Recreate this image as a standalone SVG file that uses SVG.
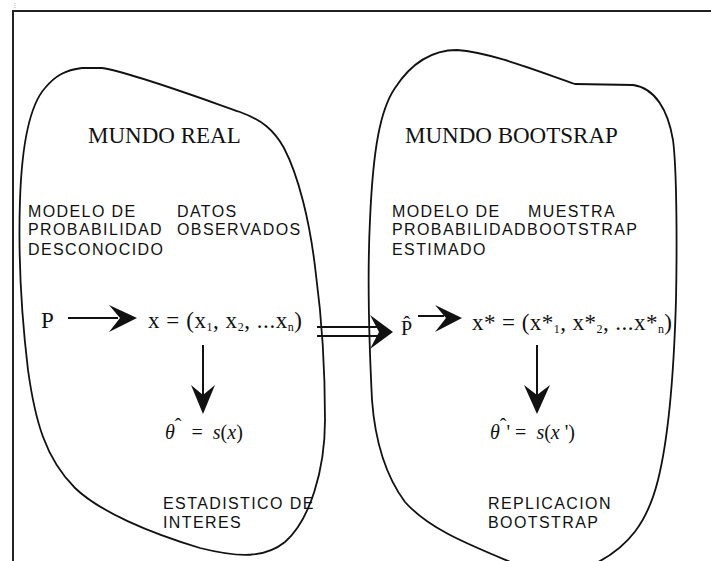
<svg xmlns="http://www.w3.org/2000/svg" width="711" height="561" viewBox="0 0 711 561">
<style>
.frame{fill:none;stroke:#222;stroke-width:2}
.blob{fill:none;stroke:#111;stroke-width:1.8}
.title{font-family:"Liberation Serif",serif;font-size:23px;fill:#111}
.lab{font-family:"Liberation Sans",Arial,sans-serif;font-size:16px;letter-spacing:1.4px;fill:#111}
.m{font-family:"Liberation Serif",serif;font-size:23px;fill:#111}
.sub{font-size:12px}
.eq{font-family:"Liberation Serif",serif;font-size:20px;fill:#111}
.it{font-style:italic}
.ln{stroke:#111;stroke-width:2;fill:none}
.head{fill:#111}
</style>
<rect width="711" height="561" fill="#fff"/>
<g id="frame">
<path class="frame" d="M13,561 V11 H711"/>
<line x1="15" y1="3" x2="15" y2="8" stroke="#aaa" stroke-width="1" stroke-dasharray="1,1"/>
</g>
<g id="mundo-real">
<path class="blob" d="M82,68 L102,68 C130,72 200,98 240,112 C262,120 274,130 284,148 C298,175 310,220 316,275 C322,320 325,360 325,420 C325,470 310,520 285,542 C265,558 240,558 200,548 C150,533 100,512 75,488 C45,458 35,420 28,370 C22,320 18,260 20,200 C22,140 30,105 45,88 C55,76 65,70 82,68 Z"/>
<text class="title" x="88" y="143">MUNDO REAL</text>
<text class="lab" x="28" y="217">MODELO DE</text>
<text class="lab" x="177" y="217">DATOS</text>
<text class="lab" x="28" y="235">PROBABILIDAD</text>
<text class="lab" x="177" y="235">OBSERVADOS</text>
<text class="lab" x="28" y="255">DESCONOCIDO</text>
<text class="m" x="41" y="328">P</text>
<text class="m" x="148" y="328" textLength="154" lengthAdjust="spacing">x = (x<tspan class="sub" dy="3">1</tspan><tspan dy="-3">, x</tspan><tspan class="sub" dy="3">2</tspan><tspan dy="-3">, ...x</tspan><tspan class="sub" dy="3">n</tspan><tspan dy="-3">)</tspan></text>
<text class="eq" x="165" y="439"><tspan class="it">θ</tspan><tspan dy="-6">ˆ</tspan><tspan dy="6" xml:space="preserve">  =  </tspan><tspan class="it">s</tspan>(<tspan class="it">x</tspan>)</text>
<text class="lab" x="163" y="509">ESTADISTICO DE</text>
<text class="lab" x="163" y="528">INTERES</text>
</g>
<g id="mundo-bootstrap">
<path class="blob" d="M457,50 C490,52 540,72 575,84 L633,85 C655,88 668,110 673,140 C677,170 677,250 676,300 C674,370 668,440 658,480 C648,520 630,548 590,566 L520,566 C470,545 430,530 405,502 C385,475 375,440 372,400 C369,340 367,280 370,220 C373,150 380,110 395,88 C410,65 430,50 457,50 Z"/>
<text class="title" x="405" y="143">MUNDO BOOTSRAP</text>
<text class="lab" x="392" y="217">MODELO DE</text>
<text class="lab" x="528" y="217">MUESTRA</text>
<text class="lab" x="392" y="235">PROBABILIDADBOOTSTRAP</text>
<text class="lab" x="392" y="255">ESTIMADO</text>
<text class="eq" x="401" y="335">P̂</text>
<text class="m" x="472" y="330" textLength="200" lengthAdjust="spacing">x* = (x*<tspan class="sub" dy="3">1</tspan><tspan dy="-3">, x*</tspan><tspan class="sub" dy="3">2</tspan><tspan dy="-3">, ...x*</tspan><tspan class="sub" dy="3">n</tspan><tspan dy="-3">)</tspan></text>
<text class="eq" x="490" y="439"><tspan class="it">θ</tspan><tspan dy="-6">ˆ</tspan><tspan dy="6" xml:space="preserve">' =  </tspan><tspan class="it">s</tspan>(<tspan class="it">x</tspan> ')</text>
<text class="lab" x="488" y="509">REPLICACION</text>
<text class="lab" x="488" y="528">BOOTSTRAP</text>
</g>
<g id="connectors">
<line class="ln" x1="68" y1="318" x2="118" y2="318"/>
<path class="head" d="M137,318 L109,305 L120,318 L109,332 Z"/>
<line class="ln" x1="203" y1="345" x2="203" y2="395"/>
<path class="head" d="M203,414 L191,385 L203,395 L215,385 Z"/>
<line class="ln" x1="418" y1="316" x2="444" y2="316"/>
<path class="head" d="M462,318 L435,305 L446,318 L435,332 Z"/>
<line class="ln" x1="537" y1="345" x2="537" y2="395"/>
<path class="head" d="M537,414 L524,385 L537,395 L550,385 Z"/>
<line class="ln" x1="317" y1="327" x2="378" y2="327" stroke-width="2.5"/>
<line class="ln" x1="317" y1="336" x2="378" y2="336" stroke-width="2.5"/>
<path class="head" d="M393,332 L370,315 L379,332 L370,349 Z"/>
</g>
</svg>
